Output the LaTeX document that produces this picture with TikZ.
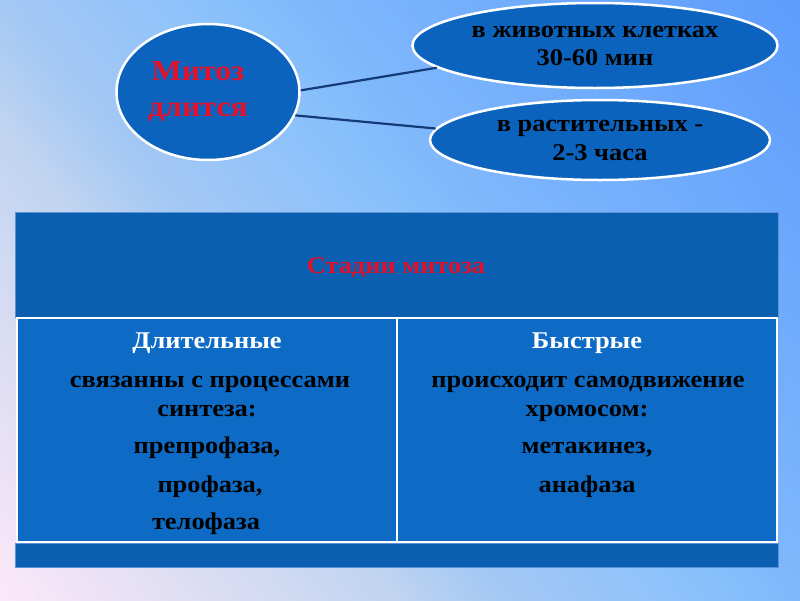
\documentclass[tikz,border=0pt]{standalone}
\usepackage{fontspec}
\newfontfamily\tf{Liberation Serif}[FakeStretch=1.1]
\usetikzlibrary{shapes.geometric}
\definecolor{bg0}{HTML}{FCE8F8}
\definecolor{bg1}{HTML}{C0D4F0}
\definecolor{bg2}{HTML}{A4C8F4}
\definecolor{bg3}{HTML}{88C0FC}
\definecolor{bg4}{HTML}{80B8FC}
\definecolor{bg5}{HTML}{5C9CFC}
\definecolor{blobfill}{HTML}{0B63BD}
\definecolor{hdrfill}{HTML}{0A5FB1}
\definecolor{cellfill}{HTML}{0D6BC6}
\definecolor{tblline}{HTML}{5C93D6}
\definecolor{connc}{HTML}{143A78}
\definecolor{redtxt}{HTML}{E2102A}
\tikzset{
  blob/.style={ellipse, draw=white, line width=2.5pt, fill=blobfill, inner sep=0pt, align=center},
  conn/.style={draw=connc, line width=2.2pt},
  ctext/.style={anchor=base, font=\tf\bfseries\fontsize{24}{28}\selectfont, text=black, inner sep=0pt},
  wtext/.style={ctext, text=white},
  rtext/.style={ctext, text=redtxt}
}
\begin{document}
\begin{tikzpicture}[x=1pt,y=-1pt]
\useasboundingbox (0,0) rectangle (800,600);
% background: diagonal gradient built from strips
\begin{scope}
\clip (0,0) rectangle (800,600);
\begin{scope}[shift={(0,600)}, rotate=40]
\fill[bg0] (-200,-1300) rectangle (1,1300);
\fill[bg5] (1000,-1300) rectangle (1300,1300);
\foreach \a/\b/\ca/\cb in {0/306/bg0/bg1, 306/386/bg1/bg2, 386/558/bg2/bg3, 558/613/bg3/bg4, 613/1000/bg4/bg5}{
  \foreach \k in {0,...,39}{
    \pgfmathsetmacro\ua{\a+\k*(\b-\a)/40}
    \pgfmathsetmacro\ub{\a+(\k+1)*(\b-\a)/40+1}
    \pgfmathtruncatemacro\pa{(\k*100+50)/40}
    \fill[\cb!\pa!\ca] (\ua,-1300) rectangle (\ub,1300);
  }
}
\end{scope}
\end{scope}
% table
\fill[hdrfill] (15,212) rectangle (778,317);
\draw[tblline, line width=0.8pt] (15,212) rectangle (778,317);
\draw[white, line width=2pt, fill=cellfill] (17,318) rectangle (397,542);
\draw[white, line width=2pt, fill=cellfill] (397,318) rectangle (777,542);
\fill[hdrfill] (15,543) rectangle (778,567);
\draw[tblline, line width=0.8pt] (15,543) rectangle (778,567);
\node[rtext] (hdr) at (396,273) {Стадии митоза};
\node[wtext] (l1) at (207,348) {Длительные};
\node[ctext] (l2) at (210,387) {связанны с процессами};
\node[ctext] (l3) at (207,416) {синтеза:};
\node[ctext] (l4) at (207,453) {препрофаза,};
\node[ctext] (l5) at (210,492) {профаза,};
\node[ctext] (l6) at (206,529) {телофаза};
\node[wtext] (r1) at (587,348) {Быстрые};
\node[ctext] (r2) at (588,387) {происходит самодвижение};
\node[ctext] (r3) at (587,416) {хромосом:};
\node[ctext] (r4) at (587,453) {метакинез,};
\node[ctext] (r5) at (587,492) {анафаза};
% diagram
\node[blob, minimum width=183pt, minimum height=136pt, text=redtxt,
      font=\tf\bfseries\fontsize{29}{36}\selectfont] (mit) at (208,92)
      {Митоз\hspace*{20pt}\\длится\hspace*{20pt}};
\node[blob, minimum width=365pt, minimum height=85pt, text=black,
      font=\tf\bfseries\fontsize{24}{28}\selectfont] (anim) at (595,45.5)
      {в животных клетках\\30-60 мин};
\node[blob, minimum width=340pt, minimum height=80pt, text=black,
      font=\tf\bfseries\fontsize{24}{29}\selectfont] (plant) at (600,140)
      {в растительных -\\2-3 часа};
\draw[conn] (mit.1) -- (anim.188);
\draw[conn] (mit.345) -- (plant.176);
\end{tikzpicture}
\end{document}
